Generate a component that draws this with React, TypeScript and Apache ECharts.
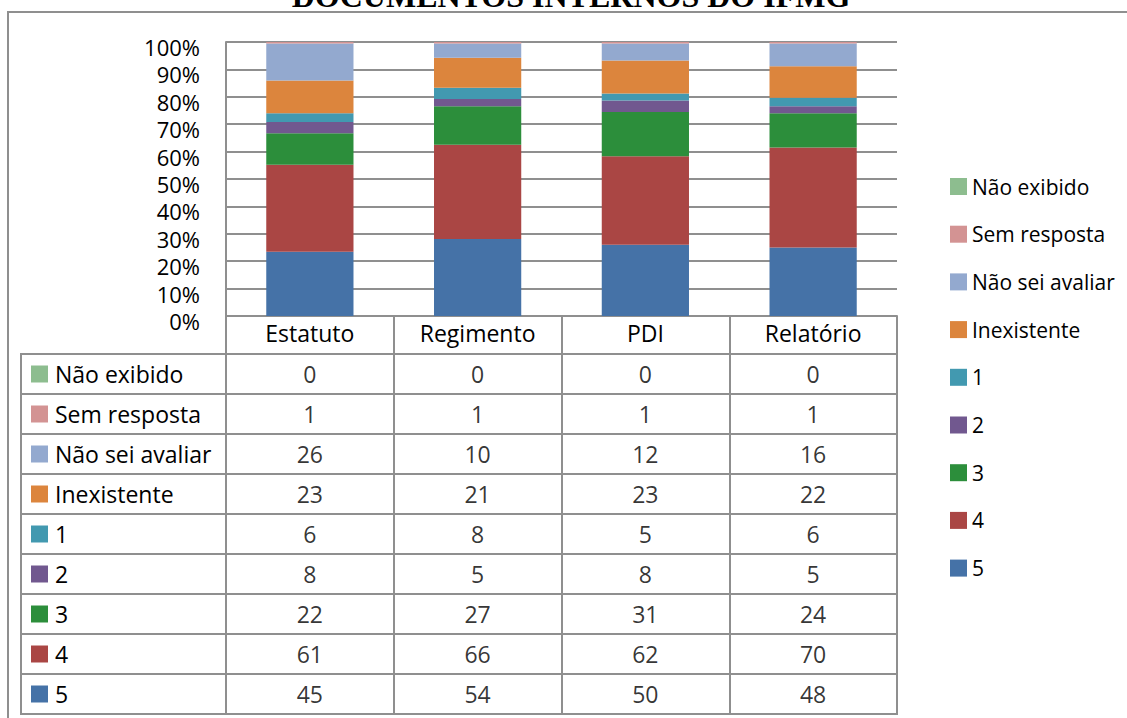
import React, { useEffect, useRef } from "react";
import * as echarts from "echarts";

const categories = ["Estatuto", "Regimento", "PDI", "Relatório"];
const rowNames = ["Não exibido", "Sem resposta", "Não sei avaliar", "Inexistente", "1", "2", "3", "4", "5"];
const naoExibido = [0, 0, 0, 0];
const semResposta = [1, 1, 1, 1];
const naoSeiAvaliar = [26, 10, 12, 16];
const inexistente = [23, 21, 23, 22];
const nota1 = [6, 8, 5, 6];
const nota2 = [8, 5, 8, 5];
const nota3 = [22, 27, 31, 24];
const nota4 = [61, 66, 62, 70];
const nota5 = [45, 54, 50, 48];
const yTicks = [0, 10, 20, 30, 40, 50, 60, 70, 80, 90, 100];
const title = "DOCUMENTOS INTERNOS DO IFMG";

const rowValues = [naoExibido, semResposta, naoSeiAvaliar, inexistente, nota1, nota2, nota3, nota4, nota5];
const rowColors = ["#8DBD8F", "#D39393", "#93A9CF", "#DC853D", "#4299B0", "#71588F", "#2C8E3B", "#AA4644", "#4572A7"];

const GRAY = "#8f8f8f";
const FONT = "Open Sans";

export default function App() {
  const ref = useRef<HTMLDivElement>(null);
  useEffect(() => {
    if (!ref.current) return;
    const chart = echarts.init(ref.current, undefined, { renderer: "svg" });
    const totals = categories.map((_, c) => rowValues.reduce((s, r) => s + r[c], 0));
    const barSeries = rowNames
      .map((name, r) => ({
        name,
        type: "bar",
        stack: "total",
        xAxisIndex: 0,
        yAxisIndex: 0,
        barWidth: "52%",
        itemStyle: { color: rowColors[r] },
        data: rowValues[r].map((v, c) => (v / totals[c]) * 100),
      }))
      .reverse();
    const cells: any[] = [];
    rowNames.forEach((rn, r) => {
      categories.forEach((cat, c) => cells.push([cat, rn, rowValues[r][c]]));
    });
    const rich: any = { t: { fontSize: 23, fontFamily: FONT, color: "#000", padding: [0, 0, 0, 7] } };
    rowColors.forEach((col, i) => {
      rich["s" + i] = { width: 17, height: 17, backgroundColor: col };
    });
    const hiddenCat = (gridIndex: number, data: string[], inverse = false) => ({
      type: "category",
      gridIndex,
      data,
      inverse,
      axisLine: { show: false },
      axisTick: { show: false },
      axisLabel: { show: false },
      splitLine: { show: true, interval: 0, lineStyle: { color: GRAY, width: 2 } },
    });
    const option: any = {
      animation: false,
      backgroundColor: "#fff",
      textStyle: { fontFamily: FONT },
      grid: [
        { left: 226, top: 42, width: 671, height: 274 },
        { left: 226, top: 354, width: 671, height: 360, show: true, borderColor: GRAY, borderWidth: 2 },
        { left: 21, top: 354, width: 205, height: 360, show: true, borderColor: GRAY, borderWidth: 2 },
      ],
      xAxis: [
        {
          type: "category",
          gridIndex: 0,
          data: categories,
          axisLine: { show: true, lineStyle: { color: GRAY, width: 2 } },
          axisTick: { show: true, interval: 0, length: 38, lineStyle: { color: GRAY, width: 2 } },
          axisLabel: { fontSize: 23, color: "#000", fontFamily: FONT, margin: 5 },
        },
        hiddenCat(1, categories),
        { ...hiddenCat(2, [""]), splitLine: { show: false } },
      ],
      yAxis: [
        {
          type: "value",
          gridIndex: 0,
          min: 0,
          max: 100,
          interval: 10,
          axisLine: { show: true, lineStyle: { color: GRAY, width: 2 } },
          axisTick: { show: false },
          splitLine: { show: true, lineStyle: { color: GRAY, width: 2 } },
          axisLabel: {
            fontSize: 22,
            color: "#000",
            fontFamily: FONT,
            margin: 26,
            verticalAlign: "top",
            lineHeight: 10,
            formatter: (v: number) => (yTicks.includes(v) ? v + "%" : ""),
          },
        },
        hiddenCat(1, rowNames, true),
        {
          ...hiddenCat(2, rowNames, true),
          axisLabel: {
            show: true,
            inside: true,
            margin: 10,
            align: "left",
            formatter: (v: string) => `{s${rowNames.indexOf(v)}|}{t|${v}}`,
            rich,
          },
        },
      ],
      legend: {
        orient: "vertical",
        left: 945,
        top: 171,
        itemWidth: 17,
        itemHeight: 17,
        itemGap: 26.7,
        icon: "rect",
        selectedMode: false,
        data: rowNames,
        textStyle: { fontSize: 21, color: "#000", fontFamily: FONT, lineHeight: 20 },
      },
      series: [
        ...barSeries,
        {
          type: "scatter",
          xAxisIndex: 1,
          yAxisIndex: 1,
          symbol: "rect",
          symbolSize: 1,
          itemStyle: { color: "rgba(0,0,0,0)" },
          label: {
            show: true,
            position: "inside",
            fontSize: 23,
            color: "#000",
            fontFamily: FONT,
            formatter: (p: any) => String(p.value[2]),
          },
          data: cells,
        },
      ],
      graphic: [
        {
          type: "rect",
          z: -10,
          shape: { x: 8, y: 12, width: 1300, height: 900 },
          style: { fill: "none", stroke: GRAY, lineWidth: 2 },
        },
        {
          type: "text",
          x: 571,
          y: -4,
          style: {
            text: title,
            fontFamily: "Liberation Serif",
            fontWeight: "bold",
            fontSize: 32,
            fill: "#000",
            align: "center",
            verticalAlign: "middle",
          },
        },
      ],
    };
    chart.setOption(option);
    return () => chart.dispose();
  }, []);
  return <div ref={ref} style={{ position: "absolute", left: 0, top: 0, width: 1127, height: 718 }} />;
}
